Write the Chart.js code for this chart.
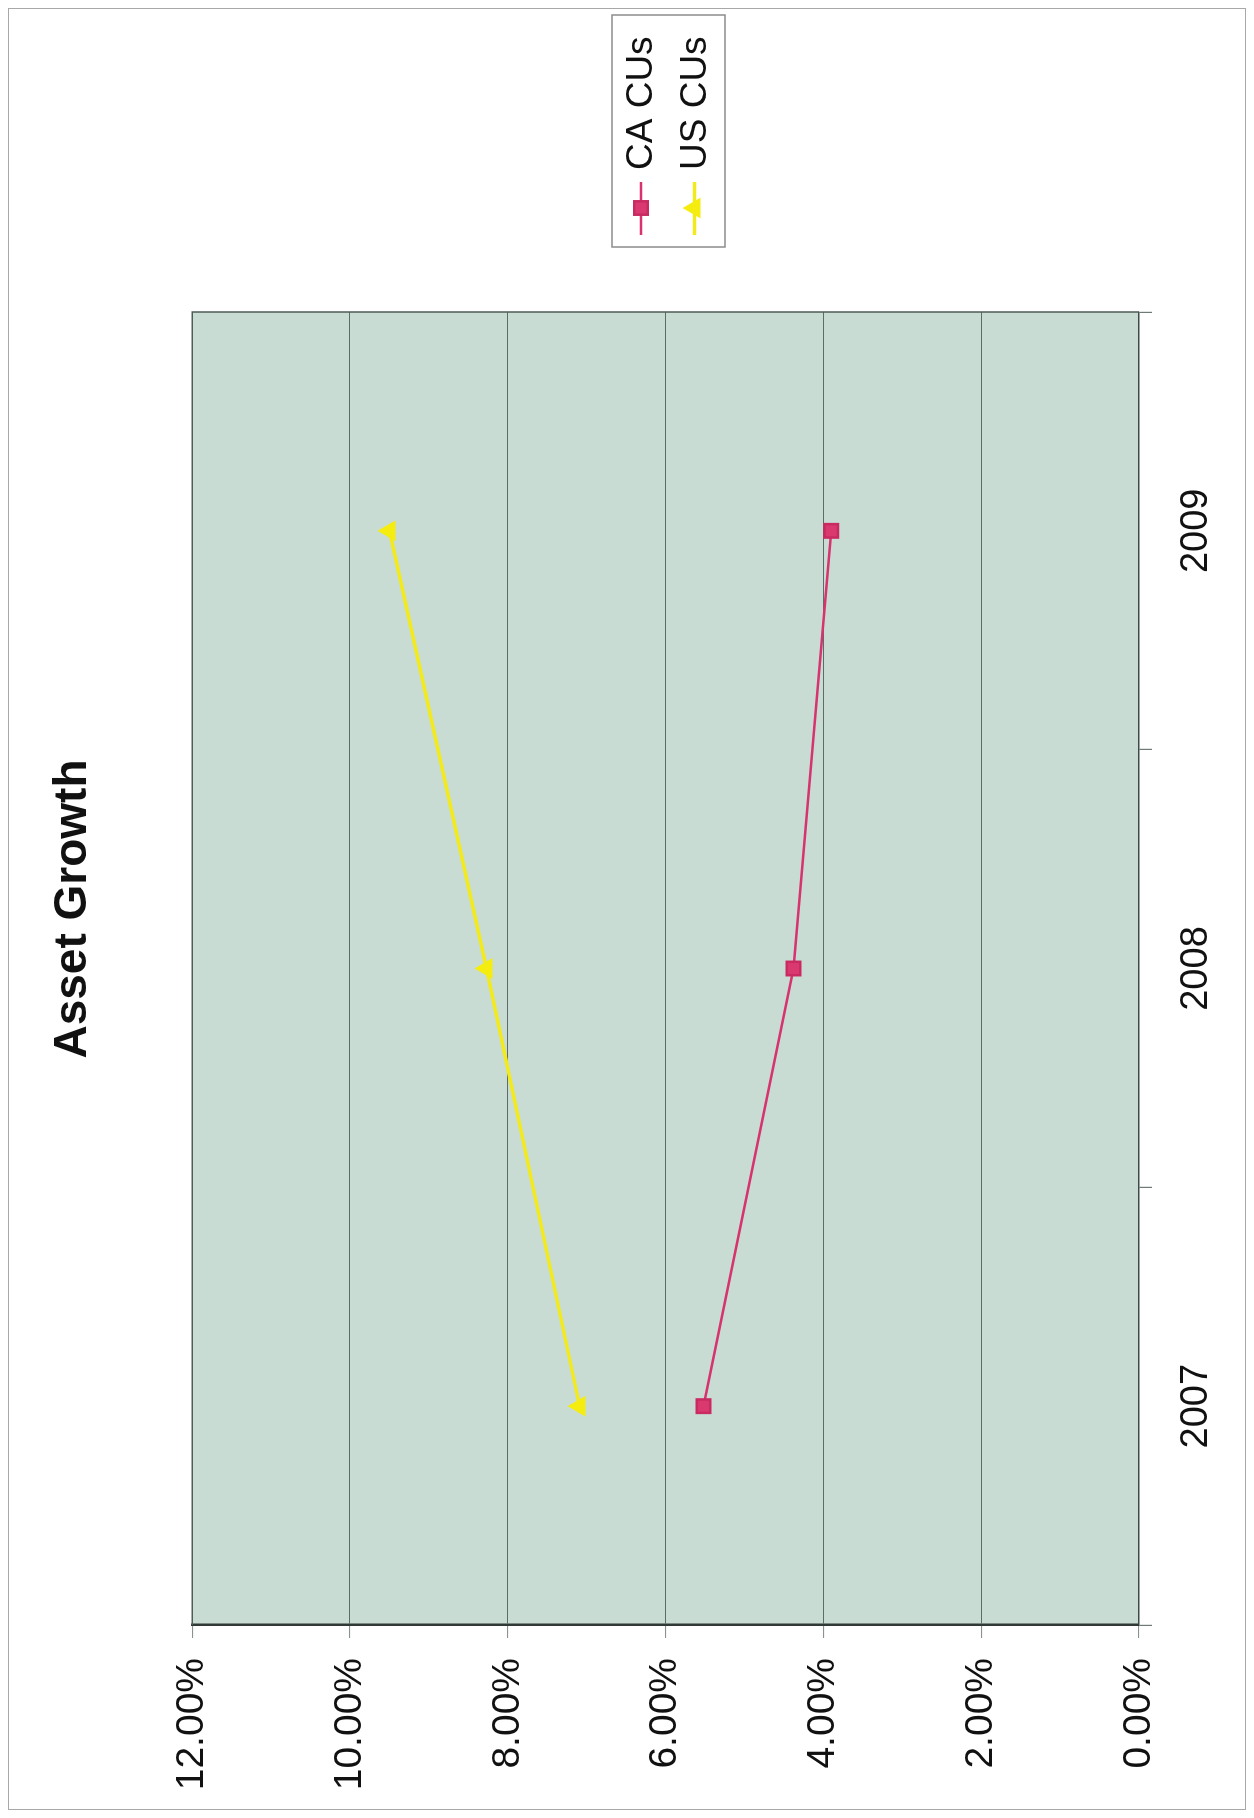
<!DOCTYPE html>
<html>
<head>
<meta charset="utf-8">
<title>Asset Growth</title>
<script src="https://cdn.jsdelivr.net/npm/chart.js@4.4.1/dist/chart.umd.min.js"></script>
<style>
    html, body { margin: 0; padding: 0; background: #fff; overflow: hidden; }
    /* the chart is drawn upright, then turned a quarter left like the scan */
    #giro {
        position: absolute; left: 0; top: 0;
        width: 1818px; height: 1254px;
        transform-origin: 0 0;
        transform: translate(0, 1818px) rotate(-90deg);
    }
</style>
</head>
<body>
<div id="giro"><canvas id="grafico" width="1818" height="1254"></canvas></div>
<script>
// ==========================================
// DATOS
// ==========================================
const anios = ['2007', '2008', '2009'];
const caCUs = [5.52, 4.38, 3.90];
const usCUs = [7.09, 8.27, 9.50];
const marcasPorcentaje = [0, 2, 4, 6, 8, 10, 12];

const FUENTE = "'Liberation Sans', Arial, sans-serif";

// fondo del area de trazado, borde y marco exterior
const fondoPlot = {
    id: 'fondoPlot',
    beforeDraw(chart) {
        const { ctx, chartArea: a } = chart;
        ctx.save();
        ctx.fillStyle = '#fff';
        ctx.fillRect(0, 0, chart.width, chart.height);
        ctx.strokeStyle = '#a8a8a8';
        ctx.lineWidth = 1;
        ctx.strokeRect(8.5, 8.5, chart.width - 17, chart.height - 17);
        ctx.fillStyle = '#c9dcd3';
        ctx.fillRect(a.left, a.top, a.right - a.left, a.bottom - a.top);
        ctx.restore();
    },
    afterDatasetsDraw(chart) {
        const { ctx, chartArea: a } = chart;
        ctx.save();
        ctx.strokeStyle = '#4e5c56';
        ctx.lineWidth = 1.5;
        ctx.beginPath();
        ctx.moveTo(a.left, a.top);
        ctx.lineTo(a.right, a.top);
        ctx.lineTo(a.right, a.bottom);
        ctx.stroke();
        ctx.restore();
    }
};

// leyenda al estilo Excel: linea + marcador + texto, dentro de un recuadro
const leyendaExcel = {
    id: 'leyendaExcel',
    afterDraw(chart) {
        const { ctx, chartArea: a } = chart;
        const x0 = a.right + 65, y0 = 612, ancho = 232, alto = 113;
        ctx.save();
        ctx.fillStyle = '#fff';
        ctx.fillRect(x0, y0, ancho, alto);
        ctx.strokeStyle = '#8c8c8c';
        ctx.lineWidth = 1.5;
        ctx.strokeRect(x0, y0, ancho, alto);
        chart.data.datasets.forEach((ds, i) => {
            const y = y0 + 29 + i * 53.5;
            ctx.strokeStyle = ds.borderColor;
            ctx.lineWidth = ds.borderWidth;
            ctx.beginPath();
            ctx.moveTo(x0 + 12, y);
            ctx.lineTo(x0 + 65, y);
            ctx.stroke();
            ctx.fillStyle = ds.pointBackgroundColor;
            ctx.strokeStyle = ds.pointBorderColor;
            Chart.helpers.drawPoint(ctx, { pointStyle: ds.pointStyle, radius: ds.pointRadius, borderWidth: 1 }, x0 + 39, y);
            ctx.fillStyle = '#111';
            ctx.font = '37px ' + FUENTE;
            ctx.textBaseline = 'middle';
            ctx.textAlign = 'left';
            ctx.fillText(ds.label, x0 + 77, y + 1);
        });
        ctx.restore();
    }
};

document.addEventListener('DOMContentLoaded', () => {
    Chart.defaults.font.family = FUENTE;
    Chart.defaults.color = '#111';

    new Chart(document.getElementById('grafico'), {
        type: 'line',
        data: {
            labels: anios,
            datasets: [
                {
                    label: 'CA CUs', data: caCUs,
                    borderColor: '#d6336f', borderWidth: 2.5,
                    pointStyle: 'rect', pointRadius: 9.5,
                    pointBackgroundColor: '#d9396f', pointBorderColor: '#c92a62',
                    tension: 0, fill: false
                },
                {
                    label: 'US CUs', data: usCUs,
                    borderColor: '#f2ea1c', borderWidth: 3.5,
                    pointStyle: 'triangle', pointRadius: 8.5,
                    pointBackgroundColor: '#f5ec10', pointBorderColor: '#f5ec10',
                    tension: 0, fill: false
                }
            ]
        },
        options: {
            responsive: false,
            animation: false,
            layout: { padding: 0 },
            plugins: {
                legend: { display: false },
                tooltip: { enabled: false },
                title: {
                    display: true,
                    text: 'Asset Growth',
                    font: { size: 46, weight: 'bold' },
                    color: '#111',
                    padding: { top: 46, bottom: 91 }
                }
            },
            scales: {
                x: {
                    offset: true,
                    grid: { offset: true, drawOnChartArea: false, drawTicks: true, tickLength: 13, tickColor: '#6f7a75', lineWidth: 1.2 },
                    border: { display: true, color: '#3e4a45', width: 1.5 },
                    ticks: { font: { size: 38 }, padding: 22, maxRotation: 0 },
                    afterFit: s => { s.height = 115; }
                },
                y: {
                    min: 0, max: 12,
                    afterBuildTicks: s => { s.ticks = marcasPorcentaje.map(v => ({ value: v })); },
                    grid: { color: '#5d6c66', lineWidth: 1.1, tickLength: 13, tickColor: '#8a938f' },
                    border: { display: true, color: '#2f3a36', width: 2.5 },
                    ticks: { font: { size: 39 }, padding: 20, callback: v => v.toFixed(2) + '%' },
                    afterFit: s => { s.width = 193; }
                },
                hueco: {
                    type: 'linear', position: 'right', display: true,
                    grid: { display: false }, border: { display: false },
                    ticks: { display: false },
                    afterFit: s => { s.width = 312; }
                }
            }
        },
        plugins: [fondoPlot, leyendaExcel]
    });
});
</script>
</body>
</html>
